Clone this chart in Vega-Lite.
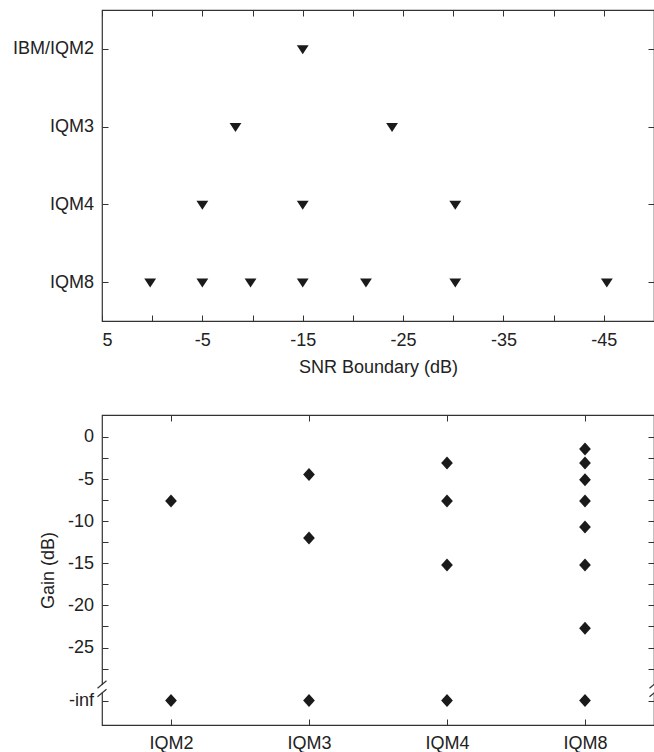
{
  "$schema": "https://vega.github.io/schema/vega-lite/v6.json",
  "padding": {"left": 11, "top": 8, "right": 0, "bottom": 0},
  "spacing": 94,
  "bounds": "flush",
  "config": {
    "view": {"stroke": "#333", "strokeWidth": 1.2},
    "axis": {
      "domain": false,
      "grid": false,
      "tickSize": -6,
      "tickColor": "#333",
      "tickWidth": 1,
      "labelFont": "Liberation Sans",
      "labelFontSize": 18,
      "labelColor": "#222",
      "titleFont": "Liberation Sans",
      "titleFontSize": 18,
      "titleFontWeight": "normal",
      "titleColor": "#222"
    }
  },
  "datasets": {
    "snr": [
      {"q": "IBM/IQM2", "snr": -15},
      {"q": "IQM3", "snr": -8.3},
      {"q": "IQM3", "snr": -23.9},
      {"q": "IQM4", "snr": -5},
      {"q": "IQM4", "snr": -15},
      {"q": "IQM4", "snr": -30.2},
      {"q": "IQM8", "snr": 0.2},
      {"q": "IQM8", "snr": -5},
      {"q": "IQM8", "snr": -9.8},
      {"q": "IQM8", "snr": -15},
      {"q": "IQM8", "snr": -21.3},
      {"q": "IQM8", "snr": -30.2},
      {"q": "IQM8", "snr": -45.3}
    ],
    "gain": [
      {"q": "IQM2", "gain": -7.6},
      {"q": "IQM2", "gain": -31.3},
      {"q": "IQM3", "gain": -4.45},
      {"q": "IQM3", "gain": -12.0},
      {"q": "IQM3", "gain": -31.3},
      {"q": "IQM4", "gain": -3.1},
      {"q": "IQM4", "gain": -7.6},
      {"q": "IQM4", "gain": -15.2},
      {"q": "IQM4", "gain": -31.3},
      {"q": "IQM8", "gain": -1.45},
      {"q": "IQM8", "gain": -3.1},
      {"q": "IQM8", "gain": -5.1},
      {"q": "IQM8", "gain": -7.6},
      {"q": "IQM8", "gain": -10.7},
      {"q": "IQM8", "gain": -15.2},
      {"q": "IQM8", "gain": -22.7},
      {"q": "IQM8", "gain": -31.3}
    ],
    "breaks": [{"edge": 0}, {"edge": 1}]
  },
  "vconcat": [
    {
      "width": 552,
      "height": 311,
      "data": {"name": "snr"},
      "layer": [
        {
          "mark": {"type": "point", "shape": "M-1,-0.6L1,-0.6L0,0.9Z", "filled": true, "size": 140, "color": "#1a1a1a", "opacity": 1},
          "encoding": {
            "x": {
              "field": "snr", "type": "quantitative",
              "scale": {"domain": [-50, 5], "reverse": true, "nice": false, "zero": false},
              "axis": {"orient": "bottom", "values": [5, 0, -5, -10, -15, -20, -25, -30, -35, -40, -45],
                "labelExpr": "datum.value % 10 == 0 ? '' : '' + datum.value",
                "title": "SNR Boundary (dB)", "labelPadding": 16, "titlePadding": 9}
            },
            "y": {
              "field": "q", "type": "nominal",
              "scale": {"type": "point", "domain": ["IBM/IQM2", "IQM3", "IQM4", "IQM8"], "padding": 0.5},
              "axis": {"orient": "left", "title": null, "labelPadding": 14.5}
            }
          }
        },
        {
          "mark": {"type": "point", "shape": "M-1,-0.6L1,-0.6L0,0.9Z", "filled": true, "size": 140, "color": "#1a1a1a", "opacity": 0},
          "encoding": {
            "x": {
              "field": "snr", "type": "quantitative",
              "axis": {"orient": "top", "values": [5, 0, -5, -10, -15, -20, -25, -30, -35, -40, -45], "labels": false, "title": null}
            },
            "y": {
              "field": "q", "type": "nominal",
              "axis": {"orient": "right", "labels": false, "title": null}
            }
          }
        }
      ],
      "resolve": {"axis": {"x": "independent", "y": "independent"}}
    },
    {
      "width": 552,
      "height": 310,
      "layer": [
        {
          "data": {"name": "gain"},
          "mark": {"type": "point", "shape": "M0,-1L0.9,0L0,1L-0.9,0Z", "filled": true, "size": 169, "color": "#1a1a1a", "opacity": 1},
          "encoding": {
            "x": {
              "field": "q", "type": "nominal",
              "scale": {"type": "point", "domain": ["IQM2", "IQM3", "IQM4", "IQM8"], "padding": 0.5},
              "axis": {"orient": "bottom", "title": null, "labelAngle": 0, "labelPadding": 15.5}
            },
            "y": {
              "field": "gain", "type": "quantitative",
              "scale": {"domain": [-34.2, 2.6], "nice": false, "zero": false},
              "axis": {"orient": "left", "title": "Gain (dB)", "labelPadding": 14.5, "titlePadding": 10,
                "values": [0, -2.5, -5, -7.5, -10, -12.5, -15, -17.5, -20, -22.5, -25, -27.5, -31.3],
                "labelExpr": "datum.value == -31.3 ? '-inf' : (datum.value % 5 == 0 ? '' + datum.value : '')"}
            }
          }
        },
        {
          "data": {"name": "gain"},
          "mark": {"type": "point", "shape": "M0,-1L0.9,0L0,1L-0.9,0Z", "filled": true, "size": 169, "color": "#1a1a1a", "opacity": 0},
          "encoding": {
            "x": {
              "field": "q", "type": "nominal",
              "scale": {"type": "point", "domain": ["IQM2", "IQM3", "IQM4", "IQM8"], "padding": 0.5},
              "axis": {"orient": "top", "labels": false, "title": null}
            },
            "y": {
              "field": "gain", "type": "quantitative",
              "axis": {"orient": "right", "labels": false, "title": null,
                "values": [0, -2.5, -5, -7.5, -10, -12.5, -15, -17.5, -20, -22.5, -25, -27.5, -31.3]}
            }
          }
        },
        {
          "data": {"name": "breaks"},
          "mark": {"type": "point", "shape": "M-0.5,-0.75L0.5,-0.75L0.5,0.75L-0.5,0.75Z", "filled": true, "size": 100, "color": "white", "opacity": 1, "strokeWidth": 0},
          "encoding": {
            "x": {"field": "edge", "type": "quantitative", "scale": {"domain": [0, 1], "nice": false, "zero": false}, "axis": null},
            "y": {"datum": -29.9, "type": "quantitative", "axis": null}
          }
        },
        {
          "data": {"name": "breaks"},
          "mark": {"type": "point", "shape": "M-0.9,-0.1L0.9,-1.6M-0.9,1.6L0.9,0.1", "filled": false, "size": 100, "color": "#333", "opacity": 1, "strokeWidth": 1.2},
          "encoding": {
            "x": {"field": "edge", "type": "quantitative", "scale": {"domain": [0, 1], "nice": false, "zero": false}, "axis": null},
            "y": {"datum": -29.9, "type": "quantitative", "axis": null}
          }
        }
      ],
      "resolve": {"scale": {"x": "independent"}, "axis": {"x": "independent", "y": "independent"}}
    }
  ]
}
